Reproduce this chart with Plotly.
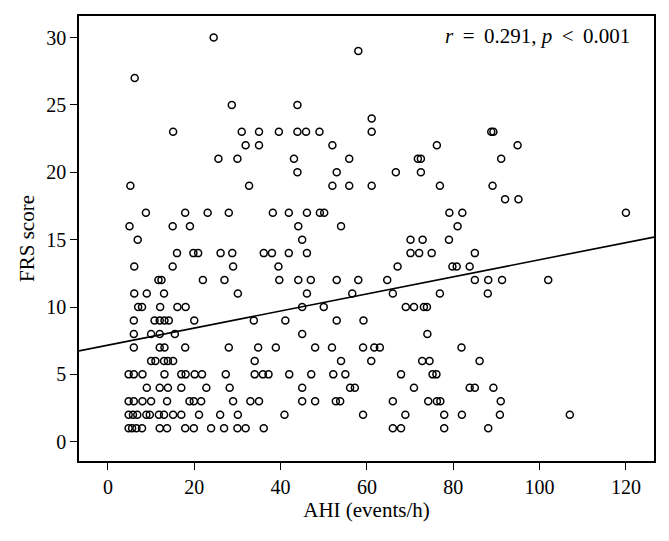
import plotly.graph_objects as go

# FRS score levels with the AHI values of points at each level
y30 = [24.5]
y29 = [58.0]
y27 = [6.2]
y25 = [28.7, 43.9]
y24 = [61.1]
y23 = [15.1, 31.0, 35.0, 39.6, 43.9, 45.9, 49.0, 61.1, 88.8, 89.3]
y22 = [31.9, 35.0, 52.0, 76.2, 94.9]
y21 = [25.6, 30.0, 43.1, 55.9, 71.8, 72.5, 91.1]
y20 = [43.9, 53.0, 66.7, 72.5]
y19 = [5.2, 32.7, 52.0, 55.9, 61.1, 76.9, 89.1]
y18 = [92.0, 95.1]
y17 = [8.8, 17.9, 23.1, 28.0, 38.2, 41.9, 46.1, 49.1, 50.1, 79.1, 82.1, 120.0]
y16 = [5.0, 15.0, 19.0, 44.1, 54.0, 81.0]
y15 = [6.9, 45.0, 70.1, 72.9, 79.0]
y14 = [16.0, 19.8, 20.9, 26.1, 28.8, 36.1, 38.0, 41.9, 46.1, 70.1, 72.1, 75.0, 85.0]
y13 = [6.1, 15.0, 29.0, 39.5, 67.1, 79.8, 80.8, 83.8]
y12 = [11.7, 12.4, 22.0, 27.0, 39.7, 44.1, 47.0, 53.0, 58.0, 64.7, 85.0, 88.1, 91.3, 102.0]
y11 = [6.1, 9.0, 13.0, 30.1, 46.1, 56.6, 66.0, 76.9, 88.0]
y10 = [7.0, 7.9, 12.1, 16.1, 18.0, 45.0, 50.0, 69.0, 70.9, 73.2, 73.9]
y9 = [6.0, 10.8, 12.0, 13.1, 14.1, 20.0, 33.8, 41.1, 53.0, 59.2]
y8 = [6.0, 10.0, 12.0, 15.5, 45.0, 74.0]
y7 = [6.0, 12.0, 13.1, 17.9, 28.0, 34.8, 38.9, 48.0, 51.9, 59.1, 61.7, 63.0, 81.9]
y6 = [10.0, 11.0, 13.0, 13.9, 15.1, 34.0, 54.0, 61.0, 72.8, 74.5, 86.1]
y5 = [4.8, 6.0, 8.0, 13.1, 17.0, 18.0, 20.1, 21.8, 27.3, 34.0, 35.9, 37.2, 42.0,
      47.1, 52.2, 55.0, 67.9, 75.2, 76.1]
y4 = [9.0, 12.0, 13.9, 17.0, 22.8, 28.2, 45.0, 56.1, 57.2, 70.9, 83.8, 85.0, 89.3]
y3 = [4.8, 6.0, 8.0, 10.0, 13.7, 18.9, 19.9, 21.6, 29.0, 33.0, 35.0, 45.0, 48.0,
      52.8, 53.8, 66.0, 74.2, 76.2, 77.0, 91.0]
y2 = [4.8, 5.8, 6.8, 8.9, 9.7, 11.8, 13.0, 15.1, 17.0, 21.1, 26.0, 30.1, 40.9,
      59.1, 68.9, 77.9, 82.0, 90.8, 107.0]
y1 = [4.8, 5.6, 6.6, 7.9, 12.0, 13.7, 17.9, 19.9, 23.9, 26.9, 30.0, 31.9, 36.1,
      66.0, 67.9, 77.9, 88.1]

levels = {30: y30, 29: y29, 27: y27, 25: y25, 24: y24, 23: y23, 22: y22, 21: y21,
          20: y20, 19: y19, 18: y18, 17: y17, 16: y16, 15: y15, 14: y14, 13: y13,
          12: y12, 11: y11, 10: y10, 9: y9, 8: y8, 7: y7, 6: y6, 5: y5, 4: y4,
          3: y3, 2: y2, 1: y1}

ahi = []
frs = []
for score, xs in levels.items():
    for v in xs:
        ahi.append(v)
        frs.append(score)

# fitted regression line
intercept = 7.17
slope = 0.0634
x_range = [-6.7, 126.5]
y_range = [-1.43, 31.6]
fit_x = x_range
fit_y = [intercept + slope * v for v in fit_x]

x_ticks = [0, 20, 40, 60, 80, 100, 120]
y_ticks = [0, 5, 10, 15, 20, 25, 30]

font_family = "Liberation Serif, Times New Roman, serif"

fig = go.Figure()
fig.add_trace(go.Scatter(
    x=fit_x, y=fit_y, mode="lines",
    line=dict(color="black", width=1.6), showlegend=False, hoverinfo="skip"))
fig.add_trace(go.Scatter(
    x=ahi, y=frs, mode="markers",
    marker=dict(symbol="circle-open", size=7, color="black", line=dict(width=1.5)),
    showlegend=False))

fig.add_annotation(
    x=1, y=1, xref="paper", yref="paper", xanchor="right", yanchor="top",
    xshift=-22, yshift=-6,
    text="<i>r</i>&#8201; = &#8201;0.291, <i>p</i>&#8201; &lt; &#8201;0.001", showarrow=False,
    font=dict(family=font_family, size=21, color="black"))

axis_common = dict(
    showgrid=False, zeroline=False, showline=True, linecolor="black", linewidth=1.5,
    mirror=True, ticks="outside", ticklen=7, tickwidth=1.3, tickcolor="black",
    tickfont=dict(family=font_family, size=20, color="black"),
)

fig.update_xaxes(range=x_range, tickvals=x_ticks,
                 title=dict(text="AHI (events/h)", font=dict(family=font_family, size=21, color="black"),
                            standoff=5),
                 **axis_common)
fig.update_yaxes(range=y_range, tickvals=y_ticks,
                 title=dict(text="FRS score", font=dict(family=font_family, size=21, color="black"),
                            standoff=6),
                 **axis_common)

fig.update_layout(
    width=661, height=533,
    margin=dict(l=71, r=15, t=6, b=80),
    plot_bgcolor="white", paper_bgcolor="white",
)

fig.write_html("out.html")
